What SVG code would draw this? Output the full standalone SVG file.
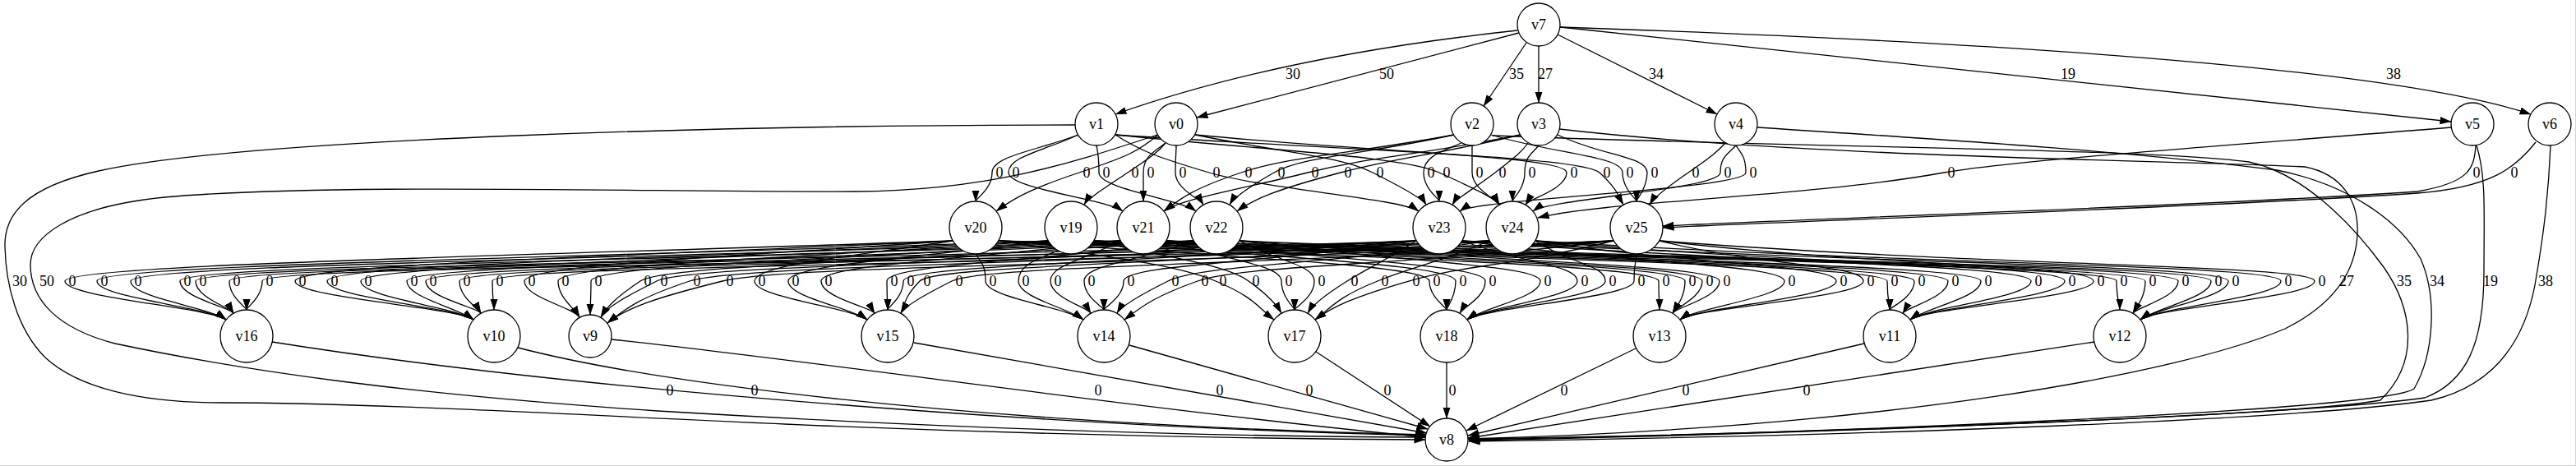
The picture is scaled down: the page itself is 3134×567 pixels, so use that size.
<svg xmlns="http://www.w3.org/2000/svg" width="3134" height="567" viewBox="0 0 3134 567">
<defs>
<marker id="ah" viewBox="0 0 14 10" refX="13.5" refY="5" markerWidth="14" markerHeight="10" markerUnits="userSpaceOnUse" orient="auto"><path d="M0,0.4 L14,5 L0,9.6 z" fill="#000"/></marker>
<style>
#edges path{fill:none;stroke:#000;stroke-width:1.3;marker-end:url(#ah)}
.n circle{fill:#fff;stroke:#000;stroke-width:1.3}
text{font-family:"Liberation Serif","Times New Roman",serif;font-size:18px;text-anchor:middle;fill:#000}
</style>
</defs>
<rect width="3134" height="567" fill="#fff"/>
<path d="M0,566.5 H3134 M3133.5,0 V567" stroke="#d4d4d4" stroke-width="1" fill="none"/>
<g id="edges">
<path d="M1846,37 Q1558,68 1357,139"/>
<path d="M1848,40 L1456,143"/>
<path d="M1857,52 L1805,129"/>
<path d="M1872,56 L1872,125"/>
<path d="M1895,42 L2089,139"/>
<path d="M1898,33 L2982,148"/>
<path d="M1898,33 C2400,50 2900,80 3079,139"/>
<path d="M1312,164 C1259,184 1207,190 1207,210 C1207,230 1187,242 1187,245"/>
<path d="M1312,164 C1269,184 1227,190 1227,210 C1227,230 1346,242 1366,257"/>
<path d="M1409,164 C1385,184 1373,190 1313,210 C1253,230 1232,242 1212,257"/>
<path d="M1334,177 C1336,187 1337,190 1337,210 C1337,230 1435,242 1455,257"/>
<path d="M1418,174 C1410,184 1402,190 1372,210 C1342,230 1323,242 1319,249"/>
<path d="M1418,174 C1405,184 1391,190 1391,210 C1391,230 1391,242 1391,245"/>
<path d="M1431,177 C1431,187 1430,190 1430,210 C1430,230 1460,242 1464,249"/>
<path d="M1357,164 C1385,182 1403,190 1471,210 C1539,230 1706,242 1726,257"/>
<path d="M1769,164 C1639,188 1570,190 1510,210 C1450,230 1436,242 1416,257"/>
<path d="M1769,164 C1660,188 1585,190 1550,210 C1515,230 1500,242 1496,249"/>
<path d="M1850,164 C1720,190 1671,190 1591,210 C1511,230 1436,242 1416,257"/>
<path d="M1850,164 C1740,190 1707,190 1631,210 C1555,230 1525,242 1505,257"/>
<path d="M1454,164 C1562,186 1630,190 1670,210 C1710,230 1731,242 1735,249"/>
<path d="M1778,174 C1755,184 1732,190 1732,210 C1732,230 1751,242 1751,245"/>
<path d="M1357,164 C1554,184 1707,190 1751,210 C1795,230 1820,242 1824,249"/>
<path d="M1791,177 C1791,187 1791,190 1791,210 C1791,230 1820,242 1824,249"/>
<path d="M1859,174 C1852,184 1845,190 1819,210 C1793,230 1771,242 1767,249"/>
<path d="M1872,177 C1864,187 1855,190 1855,210 C1855,230 1840,242 1840,245"/>
<path d="M1454,164 C1680,186 1906,190 1906,210 C1906,230 1860,242 1856,249"/>
<path d="M1357,164 C1652,184 1924,190 1946,210 C1968,230 1971,242 1975,249"/>
<path d="M1814,164 C1894,188 1974,190 1974,210 C1974,230 1991,242 1991,245"/>
<path d="M1895,164 C1949,190 2004,190 2004,210 C2004,230 1991,242 1991,245"/>
<path d="M2099,174 C2090,184 2083,190 2054,210 C2025,230 2011,242 2007,249"/>
<path d="M2112,177 C2103,187 2093,190 2093,210 C2093,230 1885,242 1865,257"/>
<path d="M2112,177 C2118,187 2124,190 2124,210 C2124,230 1796,242 1776,257"/>
<path d="M2982,155 C2700,178 2450,195 2365,210 C2200,240 1950,245 1871,265"/>
<path d="M3012,177 C3010,205 3005,222 2941,233 C2700,250 2150,268 2023,275"/>
<path d="M3085,173 C3060,205 3030,228 2941,235 C2700,252 2150,270 2023,277"/>
<path d="M1308,152 C900,152 300,168 120,208 C30,228 5,262 6,300 C7,345 20,400 55,435 C95,472 170,490 270,490 C450,490 700,505 1000,518 C1300,530 1550,534 1734,535"/>
<path d="M1408,164 C1300,200 1200,232 1040,233 C800,234 400,222 200,240 C80,252 37,290 37,322 C37,365 70,400 140,418 C300,452 500,480 800,500 C1200,524 1500,531 1735,532"/>
<path d="M1816,165 C2200,180 2600,180 2736,197 C2800,210 2860,270 2900,325 C2935,375 2945,440 2896,487 C2800,505 2200,528 1786,534"/>
<path d="M1897,157 C2200,192 2650,195 2804,203 C2850,212 2870,245 2868,285 C2866,330 2840,370 2780,400 C2650,455 2300,520 1786,534"/>
<path d="M2138,155 C2400,172 2600,185 2770,207 C2860,225 2920,270 2945,315 C2965,360 2962,430 2937,473 C2900,500 2200,528 1787,535"/>
<path d="M3013,177 C3025,215 3022,260 3022,330 C3022,420 3000,465 2950,484 C2800,505 2200,528 1787,536"/>
<path d="M3103,177 C3100,250 3092,300 3084,347 C3070,420 3030,470 2958,487 C2800,510 2300,530 1787,537"/>
<path d="M1159,293 C619,312 79,322 79,342 C79,362 255,374 275,389"/>
<path d="M1275,293 C697,314 118,322 118,342 C118,362 255,374 275,389"/>
<path d="M1363,293 C761,316 159,322 159,342 C159,362 255,374 275,389"/>
<path d="M1452,293 C836,318 219,322 219,342 C219,362 280,374 284,381"/>
<path d="M1723,293 C981,320 238,322 238,342 C238,362 280,374 284,381"/>
<path d="M1812,293 C1046,322 279,322 279,342 C279,362 300,374 300,377"/>
<path d="M1963,293 C1141,324 319,322 319,342 C319,362 300,374 300,377"/>
<path d="M1159,293 C759,312 359,322 359,342 C359,362 556,374 576,389"/>
<path d="M1275,293 C837,314 398,322 398,342 C398,362 556,374 576,389"/>
<path d="M1363,293 C901,316 439,322 439,342 C439,362 556,374 576,389"/>
<path d="M1452,293 C974,318 495,322 495,342 C495,362 556,374 576,389"/>
<path d="M1723,293 C1121,320 518,322 518,342 C518,362 581,374 585,381"/>
<path d="M1812,293 C1186,322 559,322 559,342 C559,362 581,374 585,381"/>
<path d="M1963,293 C1281,324 599,322 599,342 C599,362 601,374 601,377"/>
<path d="M1159,293 C899,312 638,322 638,342 C638,362 698,374 705,386"/>
<path d="M1275,293 C977,314 679,322 679,342 C679,362 698,374 705,386"/>
<path d="M1363,293 C1041,316 719,322 719,342 C719,362 718,374 718,383"/>
<path d="M1452,293 C1116,318 809,322 779,342 C749,362 738,374 731,386"/>
<path d="M1723,293 C1261,320 839,322 799,342 C759,362 738,374 731,386"/>
<path d="M1812,293 C1326,322 899,322 839,342 C779,362 763,374 739,393"/>
<path d="M1963,293 C1421,324 959,322 879,342 C799,362 763,374 739,393"/>
<path d="M1159,293 C1039,312 918,322 918,342 C918,362 1035,374 1055,389"/>
<path d="M1275,293 C1117,314 959,322 959,342 C959,362 1035,374 1055,389"/>
<path d="M1363,293 C1181,316 999,322 999,342 C999,362 1060,374 1064,381"/>
<path d="M1452,293 C1266,318 1079,322 1079,342 C1079,362 1080,374 1080,377"/>
<path d="M1723,293 C1411,320 1099,322 1099,342 C1099,362 1080,374 1080,377"/>
<path d="M1812,293 C1466,322 1139,322 1119,342 C1099,362 1100,374 1096,381"/>
<path d="M1963,293 C1561,324 1198,322 1158,342 C1118,362 1100,374 1096,381"/>
<path d="M1187,309 C1193,319 1199,322 1199,342 C1199,362 1298,374 1318,389"/>
<path d="M1287,305 C1263,315 1239,322 1239,342 C1239,362 1298,374 1318,389"/>
<path d="M1363,293 C1321,316 1278,322 1278,342 C1278,362 1323,374 1327,381"/>
<path d="M1452,293 C1386,318 1319,322 1319,342 C1319,362 1343,374 1343,377"/>
<path d="M1723,293 C1545,320 1367,322 1367,342 C1367,362 1343,374 1343,377"/>
<path d="M1812,293 C1617,322 1461,322 1421,342 C1381,362 1363,374 1359,381"/>
<path d="M1963,293 C1710,324 1513,322 1457,342 C1401,362 1388,374 1368,389"/>
<path d="M1215,293 C1347,312 1431,322 1479,342 C1527,362 1530,374 1550,389"/>
<path d="M1331,293 C1425,314 1491,322 1519,342 C1547,362 1555,374 1559,381"/>
<path d="M1419,293 C1489,316 1559,322 1559,342 C1559,362 1575,374 1575,377"/>
<path d="M1508,293 C1554,318 1599,322 1599,342 C1599,362 1575,374 1575,377"/>
<path d="M1723,293 C1681,320 1671,322 1639,342 C1607,362 1595,374 1591,381"/>
<path d="M1812,293 C1744,322 1726,322 1676,342 C1626,362 1620,374 1600,389"/>
<path d="M1963,293 C1839,324 1784,322 1714,342 C1644,362 1620,374 1600,389"/>
<path d="M1215,293 C1477,312 1739,322 1739,342 C1739,362 1760,374 1760,377"/>
<path d="M1331,293 C1551,314 1771,322 1771,342 C1771,362 1760,374 1760,377"/>
<path d="M1419,293 C1613,316 1807,322 1807,342 C1807,362 1780,374 1776,381"/>
<path d="M1508,293 C1691,318 1874,322 1874,342 C1874,362 1805,374 1785,389"/>
<path d="M1779,293 C1849,320 1919,322 1919,342 C1919,362 1805,374 1785,389"/>
<path d="M1868,293 C1911,322 1953,322 1953,342 C1953,362 1805,374 1785,389"/>
<path d="M1991,309 C1990,319 1988,322 1988,342 C1988,362 1805,374 1785,389"/>
<path d="M1215,293 C1617,312 2018,322 2018,342 C2018,362 2019,374 2019,377"/>
<path d="M1331,293 C1691,314 2050,322 2050,342 C2050,362 2039,374 2035,381"/>
<path d="M1419,293 C1745,316 2071,322 2071,342 C2071,362 2039,374 2035,381"/>
<path d="M1508,293 C1800,318 2092,322 2092,342 C2092,362 2039,374 2035,381"/>
<path d="M1779,293 C1975,320 2171,322 2171,342 C2171,362 2064,374 2044,389"/>
<path d="M1868,293 C2051,322 2234,322 2234,342 C2234,362 2064,374 2044,389"/>
<path d="M2019,293 C2143,324 2267,322 2267,342 C2267,362 2064,374 2044,389"/>
<path d="M1215,293 C1756,312 2296,322 2296,342 C2296,362 2299,374 2299,377"/>
<path d="M1331,293 C1830,314 2329,322 2329,342 C2329,362 2299,374 2299,377"/>
<path d="M1419,293 C1895,316 2370,322 2370,342 C2370,362 2319,374 2315,381"/>
<path d="M1508,293 C1959,318 2410,322 2410,342 C2410,362 2344,374 2324,389"/>
<path d="M1779,293 C2125,320 2471,322 2471,342 C2471,362 2344,374 2324,389"/>
<path d="M1868,293 C2190,322 2512,322 2512,342 C2512,362 2344,374 2324,389"/>
<path d="M2019,293 C2283,324 2547,322 2547,342 C2547,362 2344,374 2324,389"/>
<path d="M1215,293 C1895,312 2575,322 2575,342 C2575,362 2579,374 2579,377"/>
<path d="M1331,293 C1971,314 2610,322 2610,342 C2610,362 2599,374 2595,381"/>
<path d="M1419,293 C2035,316 2650,322 2650,342 C2650,362 2599,374 2595,381"/>
<path d="M1508,293 C2099,318 2690,322 2690,342 C2690,362 2624,374 2604,389"/>
<path d="M1779,293 C2245,320 2711,322 2711,342 C2711,362 2624,374 2604,389"/>
<path d="M1868,293 C2322,322 2775,322 2775,342 C2775,362 2624,374 2604,389"/>
<path d="M2019,293 C2418,324 2816,322 2816,342 C2816,362 2624,374 2604,389"/>
<path d="M331,416 C700,475 1300,520 1735,530"/>
<path d="M630,423 C780,462 1150,515 1735,529"/>
<path d="M744,413 C1000,440 1400,500 1735,532"/>
<path d="M1112,417 L1736,527"/>
<path d="M1374,420 L1737,522"/>
<path d="M1601,428 L1740,519"/>
<path d="M1760,441 L1760,509"/>
<path d="M1990,424 L1784,524"/>
<path d="M2268,418 L1786,530"/>
<path d="M2548,416 L1786,533"/>
</g>
<g id="edge-labels">
<text x="1573" y="96">30</text><text x="1687" y="96">50</text><text x="1845" y="96">35</text><text x="1880" y="96">27</text><text x="2015" y="96">34</text><text x="2516" y="96">19</text><text x="2912" y="96">38</text>
<text x="1216" y="216">0</text><text x="1236" y="216">0</text><text x="1322" y="216">0</text><text x="1346" y="216">0</text><text x="1381" y="216">0</text><text x="1400" y="216">0</text><text x="1439" y="216">0</text><text x="1480" y="216">0</text><text x="1519" y="216">0</text><text x="1559" y="216">0</text><text x="1600" y="216">0</text><text x="1640" y="216">0</text><text x="1679" y="216">0</text><text x="1741" y="216">0</text><text x="1760" y="216">0</text><text x="1800" y="216">0</text><text x="1828" y="216">0</text><text x="1864" y="216">0</text><text x="1915" y="216">0</text><text x="1955" y="216">0</text><text x="1983" y="216">0</text><text x="2013" y="216">0</text><text x="2063" y="216">0</text><text x="2102" y="216">0</text><text x="2133" y="216">0</text><text x="2374" y="216">0</text><text x="3013" y="216">0</text><text x="3059" y="216">0</text>
<text x="24" y="348">30</text><text x="57" y="348">50</text>
<text x="88" y="348">0</text><text x="127" y="348">0</text><text x="168" y="348">0</text><text x="228" y="348">0</text><text x="247" y="348">0</text><text x="288" y="348">0</text><text x="328" y="348">0</text>
<text x="368" y="348">0</text><text x="407" y="348">0</text><text x="448" y="348">0</text><text x="504" y="348">0</text><text x="527" y="348">0</text><text x="568" y="348">0</text><text x="608" y="348">0</text>
<text x="647" y="348">0</text><text x="688" y="348">0</text><text x="728" y="348">0</text><text x="788" y="348">0</text><text x="808" y="348">0</text><text x="848" y="348">0</text><text x="888" y="348">0</text>
<text x="927" y="348">0</text><text x="968" y="348">0</text><text x="1008" y="348">0</text><text x="1088" y="348">0</text><text x="1108" y="348">0</text><text x="1128" y="348">0</text><text x="1167" y="348">0</text>
<text x="1208" y="348">0</text><text x="1248" y="348">0</text><text x="1287" y="348">0</text><text x="1328" y="348">0</text><text x="1376" y="348">0</text><text x="1430" y="348">0</text><text x="1466" y="348">0</text>
<text x="1488" y="348">0</text><text x="1528" y="348">0</text><text x="1568" y="348">0</text><text x="1608" y="348">0</text><text x="1648" y="348">0</text><text x="1685" y="348">0</text><text x="1723" y="348">0</text>
<text x="1748" y="348">0</text><text x="1780" y="348">0</text><text x="1816" y="348">0</text><text x="1883" y="348">0</text><text x="1928" y="348">0</text><text x="1962" y="348">0</text><text x="1997" y="348">0</text>
<text x="2027" y="348">0</text><text x="2059" y="348">0</text><text x="2080" y="348">0</text><text x="2101" y="348">0</text><text x="2180" y="348">0</text><text x="2243" y="348">0</text><text x="2276" y="348">0</text>
<text x="2305" y="348">0</text><text x="2338" y="348">0</text><text x="2379" y="348">0</text><text x="2419" y="348">0</text><text x="2480" y="348">0</text><text x="2521" y="348">0</text><text x="2556" y="348">0</text>
<text x="2584" y="348">0</text><text x="2619" y="348">0</text><text x="2659" y="348">0</text><text x="2699" y="348">0</text><text x="2720" y="348">0</text><text x="2784" y="348">0</text><text x="2825" y="348">0</text>
<text x="2855" y="348">27</text><text x="2925" y="348">35</text><text x="2965" y="348">34</text><text x="3030" y="348">19</text><text x="3097" y="348">38</text>
<text x="815" y="481">0</text><text x="918" y="481">0</text><text x="1336" y="481">0</text><text x="1484" y="481">0</text><text x="1593" y="481">0</text><text x="1688" y="481">0</text><text x="1767" y="481">0</text><text x="1903" y="481">0</text><text x="2051" y="481">0</text><text x="2198" y="481">0</text>
</g>
<g id="v7" class="n"><circle cx="1872" cy="30" r="26"/><text x="1872" y="36">v7</text></g>
<g id="v1" class="n"><circle cx="1334" cy="151" r="26"/><text x="1334" y="157">v1</text></g>
<g id="v0" class="n"><circle cx="1431" cy="151" r="26"/><text x="1431" y="157">v0</text></g>
<g id="v2" class="n"><circle cx="1791" cy="151" r="26"/><text x="1791" y="157">v2</text></g>
<g id="v3" class="n"><circle cx="1872" cy="151" r="26"/><text x="1872" y="157">v3</text></g>
<g id="v4" class="n"><circle cx="2112" cy="151" r="26"/><text x="2112" y="157">v4</text></g>
<g id="v5" class="n"><circle cx="3008" cy="151" r="26"/><text x="3008" y="157">v5</text></g>
<g id="v6" class="n"><circle cx="3102" cy="151" r="26"/><text x="3102" y="157">v6</text></g>
<g id="v20" class="n"><circle cx="1187" cy="277" r="32"/><text x="1187" y="283">v20</text></g>
<g id="v19" class="n"><circle cx="1303" cy="277" r="32"/><text x="1303" y="283">v19</text></g>
<g id="v21" class="n"><circle cx="1391" cy="277" r="32"/><text x="1391" y="283">v21</text></g>
<g id="v22" class="n"><circle cx="1480" cy="277" r="32"/><text x="1480" y="283">v22</text></g>
<g id="v23" class="n"><circle cx="1751" cy="277" r="32"/><text x="1751" y="283">v23</text></g>
<g id="v24" class="n"><circle cx="1840" cy="277" r="32"/><text x="1840" y="283">v24</text></g>
<g id="v25" class="n"><circle cx="1991" cy="277" r="32"/><text x="1991" y="283">v25</text></g>
<g id="v16" class="n"><circle cx="300" cy="409" r="32"/><text x="300" y="415">v16</text></g>
<g id="v10" class="n"><circle cx="601" cy="409" r="32"/><text x="601" y="415">v10</text></g>
<g id="v9" class="n"><circle cx="718" cy="409" r="26"/><text x="718" y="415">v9</text></g>
<g id="v15" class="n"><circle cx="1080" cy="409" r="32"/><text x="1080" y="415">v15</text></g>
<g id="v14" class="n"><circle cx="1343" cy="409" r="32"/><text x="1343" y="415">v14</text></g>
<g id="v17" class="n"><circle cx="1575" cy="409" r="32"/><text x="1575" y="415">v17</text></g>
<g id="v18" class="n"><circle cx="1760" cy="409" r="32"/><text x="1760" y="415">v18</text></g>
<g id="v13" class="n"><circle cx="2019" cy="409" r="32"/><text x="2019" y="415">v13</text></g>
<g id="v11" class="n"><circle cx="2299" cy="409" r="32"/><text x="2299" y="415">v11</text></g>
<g id="v12" class="n"><circle cx="2579" cy="409" r="32"/><text x="2579" y="415">v12</text></g>
<g id="v8" class="n"><circle cx="1760" cy="535" r="26"/><text x="1760" y="541">v8</text></g>
</svg>
